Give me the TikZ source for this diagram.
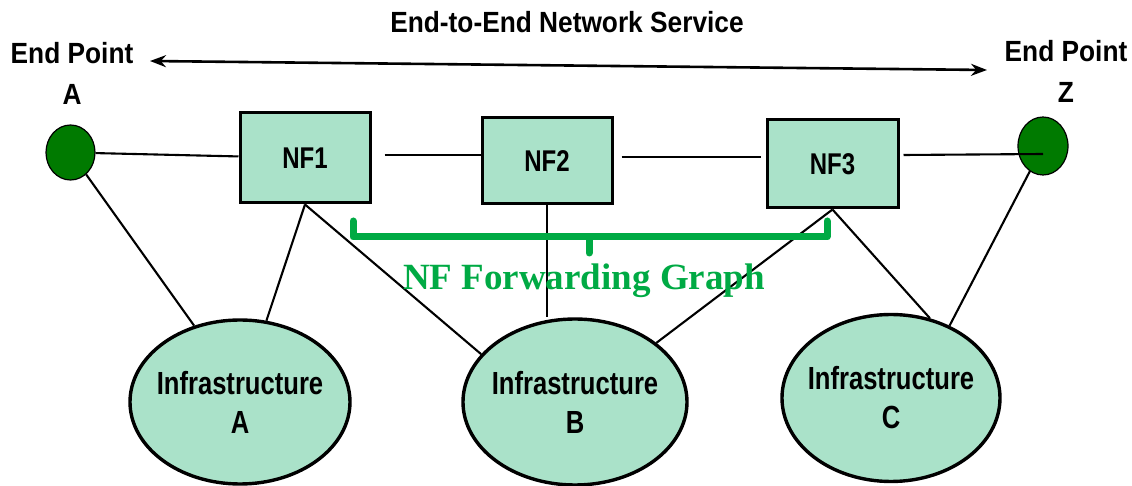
\documentclass[tikz,border=0pt]{standalone}
\usepackage{fontspec}
\setmainfont{Liberation Sans}
\newfontfamily\narrowsf[FakeStretch=0.8]{Liberation Sans}
\newfontfamily\widesf[FakeStretch=0.9]{Liberation Sans}
\newfontfamily\graphfont{Liberation Serif}
\usetikzlibrary{arrows.meta,positioning,shapes.geometric,backgrounds}

\definecolor{nfgreen}{RGB}{170,226,201}
\definecolor{epgreen}{RGB}{0,122,0}
\definecolor{fggreen}{RGB}{0,170,68}

\tikzset{
  nfbox/.style={draw,line width=1.5pt,fill=nfgreen,inner sep=0pt,
    font=\narrowsf\bfseries\fontsize{15}{18}\selectfont},
  infra/.style={ellipse,draw,line width=1.7pt,fill=nfgreen,inner sep=0pt},
  infratext/.style={align=center,inner sep=0pt,
    font=\narrowsf\bfseries\fontsize{16}{19.5}\selectfont},
  endpt/.style={ellipse,draw,line width=0.6pt,fill=epgreen,inner sep=0pt},
  eplabel/.style={align=center,inner sep=0pt,
    font=\widesf\bfseries\fontsize{14.6}{20.5}\selectfont},
  link/.style={line width=1.05pt},
  fgbracket/.style={draw=fggreen,line width=3.5pt,line cap=round,line join=round}
}

\begin{document}
\begin{tikzpicture}[x=0.5pt,y=-0.5pt]
  \useasboundingbox (0,0) rectangle (1132,486);

  % end-to-end service
  \node[eplabel] (title) at (567,22) {End-to-End Network Service};
  \coordinate (svcL) at (150,61);
  \coordinate (svcR) at (987,70);
  \draw[line width=1.3pt,{Stealth[length=8pt,width=6pt]}-{Stealth[length=8pt,width=6pt]}] (svcL) -- (svcR);

  % end points
  \node[endpt,minimum width=24.5pt,minimum height=27.5pt] (EPA) at (70.5,152.5) {};
  \node[endpt,minimum width=25pt,minimum height=29pt] (EPZ) at (1043,146) {};
  \node[eplabel] (EPAlabel) at (72,73) {End Point\\A};
  \node[eplabel] (EPZlabel) at (1066,71) {End Point\\Z};

  % network functions
  \node[nfbox,minimum width=65pt,minimum height=45pt] (NF1) at (305,158) {NF1};
  \node[nfbox,minimum width=65pt,minimum height=43pt] (NF2) at (547,161) {NF2};
  \node[nfbox,minimum width=65.5pt,minimum height=44pt] (NF3) at (832.5,164) {NF3};

  % infrastructure
  \node[infra,minimum width=110pt,minimum height=82pt,
    label={[infratext]center:Infrastructure\\A}] (InfA) at (240,402) {};
  \node[infra,minimum width=112pt,minimum height=83pt,
    label={[infratext]center:Infrastructure\\B}] (InfB) at (575,402) {};
  \node[infra,minimum width=109pt,minimum height=83.5pt,
    label={[infratext]center:Infrastructure\\C}] (InfC) at (891,398) {};

  % links to infrastructure
  \begin{scope}[on background layer]
    \draw[link] (EPA) -- (InfA.121);
    \draw[link] (NF1.south) -- (InfA.72);
    \draw[link] (NF1.south) -- (InfB.153);
    \draw[link] (NF2.south) -- (NF2.south |- InfB.north);
    \draw[link] (NF3.south) -- (InfB.36);
    \draw[link] (NF3.south) -- (InfC.64);
    \draw[link] (EPZ.center) -- (InfC.51);
  \end{scope}

  % service chain
  \draw[link] (EPA) -- (NF1);
  \draw[link] ([xshift=6.5pt,yshift=1.5pt]NF1.east) -- ([yshift=3pt]NF2.west);
  \draw[link] ([xshift=4pt,yshift=2pt]NF2.east) -- ([xshift=-2.5pt,yshift=3.5pt]NF3.west);
  \draw[link] ([xshift=2pt,yshift=4.5pt]NF3.east) -- ([yshift=-4pt]EPZ.center);

  % forwarding graph bracket
  \draw[fgbracket] (353,221) -- (353,237) -- (827,237) -- (827,221);
  \draw[fgbracket] (589,237) -- (589,253);
  \node[text=fggreen,font=\graphfont\bfseries\fontsize{18.5}{22}\selectfont] (fglabel) at (584,281) {NF Forwarding Graph};
\end{tikzpicture}
\end{document}
